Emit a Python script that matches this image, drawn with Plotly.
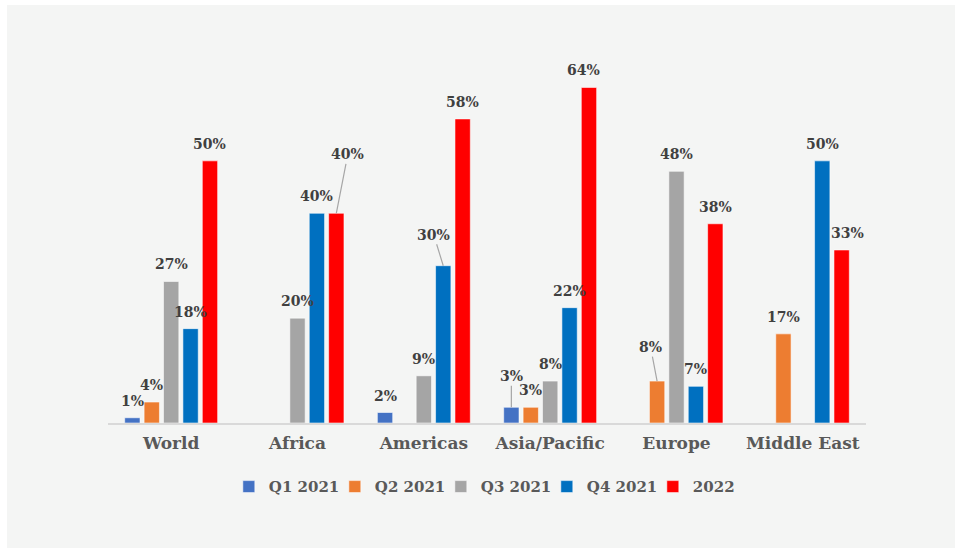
import plotly.graph_objects as go

categories = ["World", "Africa", "Americas", "Asia/Pacific", "Europe", "Middle East"]
series_names = ["Q1 2021", "Q2 2021", "Q3 2021", "Q4 2021", "2022"]
q1_2021 = [1, None, 2, 3, None, None]
q2_2021 = [4, None, None, 3, 8, 17]
q3_2021 = [27, 20, 9, 8, 48, None]
q4_2021 = [18, 40, 30, 22, 7, 50]
y2022 = [50, 40, 58, 64, 38, 33]
series_values = [q1_2021, q2_2021, q3_2021, q4_2021, y2022]
colors = ["#4472C4", "#ED7D31", "#A5A5A5", "#0070C0", "#FF0000"]

FONT = "Georgia, 'DejaVu Serif', serif"
BARGAP = 0.232
NS = len(series_names)
slot = (1 - BARGAP) / NS

# label displacement (pixels) for labels moved off their bars (with leader lines)
leader = {(1, 4): (11.5, -59), (2, 3): (-9.5, -31), (3, 0): (0, -31), (4, 1): (-6.5, -34)}
xshifts = {(5, 4): 6, (3, 4): -5}

fig = go.Figure()
xs = list(range(len(categories)))
for j, (name, vals, col) in enumerate(zip(series_names, series_values, colors)):
    fig.add_trace(go.Bar(
        x=xs, y=vals, name=name,
        marker=dict(color=col, line=dict(color="rgba(255,255,255,0.55)", width=1)),
    ))

annotations = []
for j, vals in enumerate(series_values):
    for i, v in enumerate(vals):
        if v is None:
            continue
        xc = i + (j - (NS - 1) / 2) * slot
        txt = f"{v}%"
        font = dict(family=FONT, size=14, color="#404040", weight="bold")
        if (i, j) in leader:
            ax, ay = leader[(i, j)]
            annotations.append(dict(x=xc, y=v, xref="x", yref="y", text=txt, font=font,
                                    showarrow=True, arrowhead=0, arrowwidth=1.2,
                                    arrowcolor="#A6A6A6", ax=ax, ay=ay, standoff=0))
        else:
            annotations.append(dict(x=xc, y=v, xref="x", yref="y", text=txt, font=font,
                                    showarrow=False, yanchor="middle", yshift=17,
                                    xshift=xshifts.get((i, j), 0)))

fig.update_layout(
    width=955, height=548,
    margin=dict(l=108, r=89, t=56, b=125),
    paper_bgcolor="white", plot_bgcolor="rgba(0,0,0,0)",
    barmode="group", bargap=BARGAP, bargroupgap=0.21,
    showlegend=True,
    legend=dict(orientation="h", x=0.509, xanchor="center", y=-0.174, yanchor="middle",
                font=dict(family=FONT, size=15, color="#595959", weight="bold"),
                bgcolor="rgba(0,0,0,0)", itemclick=False,
                entrywidth=61, entrywidthmode="pixels"),
    xaxis=dict(range=[-0.5, len(categories) - 0.5], tickvals=xs, ticktext=categories,
               showline=True, linecolor="#D9D9D9", linewidth=2, showgrid=False,
               zeroline=False, ticks="", ticklabelstandoff=4,
               tickfont=dict(family=FONT, size=17, color="#595959", weight="bold")),
    yaxis=dict(range=[0, 70], visible=False, showgrid=False, zeroline=False),
    annotations=annotations,
    shapes=[dict(type="rect", xref="paper", yref="paper", layer="below",
                 x0=(7 - 108) / 758, x1=(955 - 108) / 758,
                 y0=(423 - 548) / 367, y1=(423 - 5) / 367,
                 fillcolor="#F4F5F4", line=dict(width=0))],
)

fig.write_html("out.html")
